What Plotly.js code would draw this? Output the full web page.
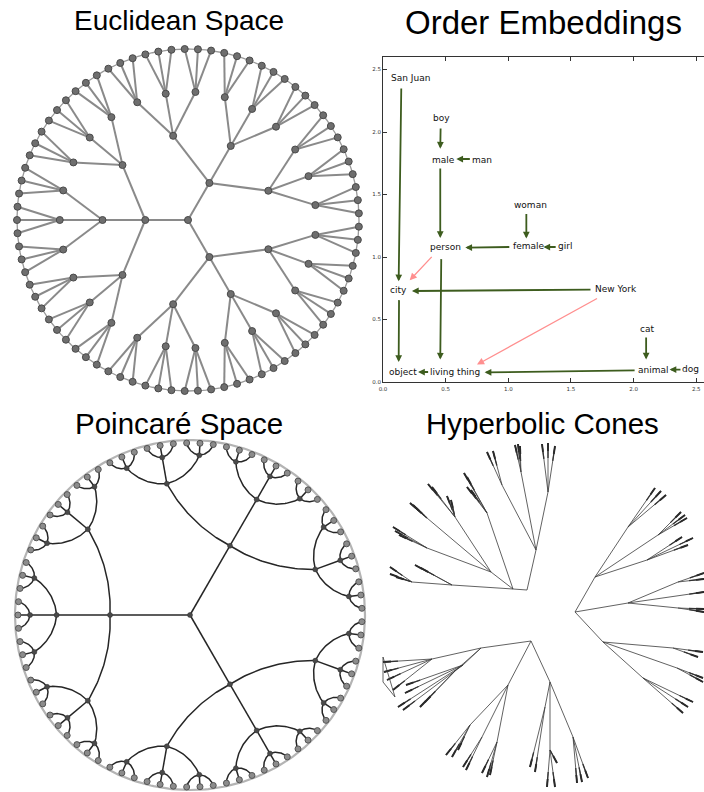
<!DOCTYPE html>
<html><head><meta charset="utf-8">
<script src="https://cdn.plot.ly/plotly-3.0.1.min.js"></script>
<style>html,body{margin:0;padding:0;background:#fff}#chart{width:704px;height:792px}</style>
</head><body><div id="chart"></div>
<script>
// ---------------- DATA ----------------
// Panel titles
const panelTitles = ['Euclidean Space', 'Order Embeddings', 'Poincaré Space', 'Hyperbolic Cones'];

// Tree shared by Euclidean and Poincaré panels (ternary tree, 4 levels)
const branching = [3, 3, 3, 3];
const siblingAngle = [120, 40, 13.33, 4.44];   // degrees between siblings at each level
const rootAngle = 300;
const euclidRadius = [0, 0.25, 0.5, 0.75, 1.0];          // level radius / leaf-ring radius
const poincareRadius = [0, 0.457, 0.762, 0.914, 0.983];  // level radius in unit disk

// Order embeddings: words and positions
const words = ['San Juan', 'boy', 'male', 'man', 'woman', 'person', 'female', 'girl', 'city', 'New York', 'cat', 'object', 'living thing', 'animal', 'dog'];
const wordX = [0.22, 0.465, 0.48, 0.79, 1.18, 0.50, 1.165, 1.45, 0.12, 1.86, 2.11, 0.16, 0.577, 2.16, 2.455];
const wordY = [2.43, 2.11, 1.78, 1.78, 1.42, 1.08, 1.085, 1.085, 0.733, 0.744, 0.427, 0.08, 0.083, 0.099, 0.107];
// arrows: tail -> head, kind 0 = hypernym (green), 1 = error (pink)
const arrowTailX = [0.146, 0.46, 0.705, 0.457, 1.144, 1.39, 1.02, 0.40, 0.465, 1.668, 1.72, 0.128, 0.372, 2.10, 2.386, 2.02];
const arrowTailY = [2.36, 2.04, 1.784, 1.72, 1.355, 1.08, 1.08, 1.013, 0.995, 0.739, 0.675, 0.667, 0.08, 0.368, 0.099, 0.093];
const arrowHeadX = [0.125, 0.457, 0.585, 0.457, 1.144, 1.28, 0.657, 0.213, 0.457, 0.231, 0.75, 0.125, 0.28, 2.10, 2.287, 0.811];
const arrowHeadY = [0.805, 1.867, 1.784, 1.152, 1.147, 1.08, 1.075, 0.813, 0.179, 0.728, 0.139, 0.16, 0.08, 0.179, 0.099, 0.077];
const arrowKind = [0, 0, 0, 0, 0, 0, 0, 1, 0, 0, 1, 0, 0, 0, 0, 0];
const axisTicks = [0, 0.5, 1.0, 1.5, 2.0, 2.5];
const axisTickText = ['0.0', '0.5', '1.0', '1.5', '2.0', '2.5'];

// Hyperbolic cones: tree nodes, parent index (-1 = root)
const coneX = [527,536,548,542,548,555,502,487,493,521,515,518,520,513,452,415,421,412,390,390,396,491,427,393,395,399,455,428,432,447,451,427,410,413,416,487,464,467,467,471,
  575,595,628,655,661,666,658,681,685,687,647,682,693,688,628,678,704,704,704,678,704,704,603,673,698,703,677,703,703,643,693,688,683,
  531,481,432,383,384,387,393,463,406,405,398,403,456,420,425,508,470,446,452,458,482,463,466,497,482,487,490,550,545,530,535,550,547,555,557,573,577,582,588];
const coneY = [590,550,492,444,443,446,485,452,451,472,445,444,446,589,585,565,568,582,567,574,577,572,548,527,531,535,517,484,487,496,500,518,503,505,508,513,473,477,487,490,
  612,577,527,488,491,495,535,512,515,518,560,537,538,545,603,582,573,579,592,608,609,612,642,648,657,652,668,678,682,678,702,707,713,
  641,648,659,662,672,680,690,665,685,693,707,710,670,707,702,685,725,755,757,750,737,767,770,742,773,777,775,682,707,767,772,750,787,787,763,737,783,782,778];
const coneParent = [-1,0,1,2,2,2,1,6,6,1,9,9,9,0,13,14,14,14,17,17,17,13,21,22,22,22,21,26,26,26,26,21,31,31,31,13,35,35,35,35,
  -1,40,41,42,42,42,41,46,46,46,41,50,50,50,40,54,55,55,54,54,59,59,40,62,63,63,62,66,66,62,69,69,69,
  -1,73,74,75,75,75,75,74,80,80,80,80,74,85,85,73,88,89,89,89,88,93,93,88,96,96,96,73,100,101,101,100,104,104,104,100,108,108,108];
const coneBoxX = [383, 383, 395, 383];
const coneBoxY = [657, 682, 697, 657];

// ---------------- BUILD ----------------
const W = 704, H = 792;
const P1 = {x0: 0, x1: 370, y0: 40, y1: 400, cx: 188, cy: 220, s: 171};
const P3 = {x0: 0, x1: 370, y0: 432, y1: 792, cx: 190, cy: 615, s: 175};

function axisPair(P) {
  return [
    {domain: [P.x0 / W, P.x1 / W], range: [(P.x0 - P.cx) / P.s, (P.x1 - P.cx) / P.s], visible: false, fixedrange: true},
    {domain: [1 - P.y1 / H, 1 - P.y0 / H], range: [(P.cy - P.y1) / P.s, (P.cy - P.y0) / P.s], visible: false, fixedrange: true}
  ];
}

function buildTree(radius) {
  const nodes = [{depth: 0, ang: rootAngle, r: radius[0], parent: -1}];
  let frontier = [0];
  for (let d = 0; d < branching.length; d++) {
    const next = [];
    for (const pi of frontier) {
      const p = nodes[pi], n = branching[d];
      for (let i = 0; i < n; i++) {
        nodes.push({depth: d + 1, ang: p.ang + (i - (n - 1) / 2) * siblingAngle[d], r: radius[d + 1], parent: pi});
        next.push(nodes.length - 1);
      }
    }
    frontier = next;
  }
  nodes.forEach(n => { n.x = n.r * Math.cos(n.ang * Math.PI / 180); n.y = n.r * Math.sin(n.ang * Math.PI / 180); });
  return nodes;
}

function circle(r) {
  const xs = [], ys = [];
  for (let i = 0; i <= 360; i++) { xs.push(r * Math.cos(i * Math.PI / 180)); ys.push(r * Math.sin(i * Math.PI / 180)); }
  return [xs, ys];
}

function geodesic(p, q) {
  const cr = p.x * q.y - p.y * q.x;
  if (Math.abs(cr) < 1e-9) return [[p.x, q.x], [p.y, q.y]];
  const a = (1 + p.x * p.x + p.y * p.y) / 2, b = (1 + q.x * q.x + q.y * q.y) / 2;
  const cx = (a * q.y - p.y * b) / cr, cy = (p.x * b - a * q.x) / cr;
  const rr = Math.hypot(p.x - cx, p.y - cy);
  const a1 = Math.atan2(p.y - cy, p.x - cx);
  let a2 = Math.atan2(q.y - cy, q.x - cx);
  let da = a2 - a1;
  while (da > Math.PI) da -= 2 * Math.PI;
  while (da < -Math.PI) da += 2 * Math.PI;
  const xs = [], ys = [], n = 40;
  for (let i = 0; i <= n; i++) { const t = a1 + da * i / n; xs.push(cx + rr * Math.cos(t)); ys.push(cy + rr * Math.sin(t)); }
  return [xs, ys];
}

const traces = [];

// Panel 1: Euclidean
const eTree = buildTree(euclidRadius);
{
  const ring = circle(euclidRadius[euclidRadius.length - 1]);
  traces.push({x: ring[0], y: ring[1], mode: 'lines', line: {color: '#9a9a9a', width: 1.3}, xaxis: 'x', yaxis: 'y', hoverinfo: 'skip'});
  const ex = [], ey = [];
  eTree.forEach(n => { if (n.parent >= 0) { const p = eTree[n.parent]; ex.push(p.x, n.x, null); ey.push(p.y, n.y, null); } });
  traces.push({x: ex, y: ey, mode: 'lines', line: {color: '#8a8a8a', width: 2}, xaxis: 'x', yaxis: 'y', hoverinfo: 'skip'});
  traces.push({x: eTree.map(n => n.x), y: eTree.map(n => n.y), mode: 'markers',
    marker: {size: 7, color: '#6e6e6e', line: {color: '#4a4a4a', width: 1}}, xaxis: 'x', yaxis: 'y', hoverinfo: 'skip'});
}

// Panel 3: Poincaré
const pTree = buildTree(poincareRadius);
{
  const ring = circle(1);
  traces.push({x: ring[0], y: ring[1], mode: 'lines', line: {color: '#b4b4b4', width: 2.2}, xaxis: 'x3', yaxis: 'y3', hoverinfo: 'skip'});
  const ex = [], ey = [];
  pTree.forEach(n => { if (n.parent >= 0) { const g = geodesic(pTree[n.parent], n); ex.push(...g[0], null); ey.push(...g[1], null); } });
  traces.push({x: ex, y: ey, mode: 'lines', line: {color: '#262626', width: 1.5}, xaxis: 'x3', yaxis: 'y3', hoverinfo: 'skip'});
  const inner = pTree.filter(n => n.depth < branching.length);
  const leaves = pTree.filter(n => n.depth === branching.length);
  traces.push({x: inner.map(n => n.x), y: inner.map(n => n.y), mode: 'markers',
    marker: {size: 5, color: '#4a4a4a', line: {color: '#333', width: 0.5}}, xaxis: 'x3', yaxis: 'y3', hoverinfo: 'skip'});
  traces.push({x: leaves.map(n => n.x), y: leaves.map(n => n.y), mode: 'markers',
    marker: {size: 6, color: '#8c8c8c', line: {color: '#555', width: 1}}, xaxis: 'x3', yaxis: 'y3', hoverinfo: 'skip'});
}

// Panel 4: Hyperbolic cones
{
  const hasChild = coneX.map(() => false);
  coneParent.forEach(p => { if (p >= 0) hasChild[p] = true; });
  const ex = [], ey = [], tx = [], ty = [], ux = [], uy = [];
  coneX.forEach((x, i) => {
    const p = coneParent[i];
    if (p < 0) return;
    ex.push(coneX[p], x, null); ey.push(coneY[p], coneY[i], null);
    if (!hasChild[i]) {
      const dx = coneX[p] - x, dy = coneY[p] - coneY[i], L = Math.hypot(dx, dy);
      const f1 = Math.min(1, 15 / L), f2 = Math.min(1, 8 / L);
      tx.push(x + dx * f1, x, null); ty.push(coneY[i] + dy * f1, coneY[i], null);
      ux.push(x + dx * f2, x, null); uy.push(coneY[i] + dy * f2, coneY[i], null);
    }
  });
  traces.push({x: ex, y: ey, mode: 'lines', line: {color: '#3a3a3a', width: 0.8}, xaxis: 'x4', yaxis: 'y4', hoverinfo: 'skip'});
  traces.push({x: tx, y: ty, mode: 'lines', line: {color: '#333', width: 1.3}, xaxis: 'x4', yaxis: 'y4', hoverinfo: 'skip'});
  traces.push({x: ux, y: uy, mode: 'lines', line: {color: '#2a2a2a', width: 1.9}, xaxis: 'x4', yaxis: 'y4', hoverinfo: 'skip'});
  traces.push({x: coneBoxX, y: coneBoxY, mode: 'lines', line: {color: '#3a3a3a', width: 0.8}, xaxis: 'x4', yaxis: 'y4', hoverinfo: 'skip'});
}

// Panel 2: invisible trace to establish axes
traces.push({x: [0], y: [0], mode: 'markers', marker: {opacity: 0}, xaxis: 'x2', yaxis: 'y2', hoverinfo: 'skip'});

const annotations = [];
const titlePos = [[179.5, 21], [543, 22], [179, 423], [542, 423]];
const titleSize = [28, 33, 29.5, 29.5];
panelTitles.forEach((t, i) => annotations.push({text: t, xref: 'paper', yref: 'paper', x: titlePos[i][0] / W, y: 1 - titlePos[i][1] / H,
  xanchor: 'center', yanchor: 'middle', showarrow: false, font: {family: 'Liberation Sans, Arial, sans-serif', size: titleSize[i], color: '#000'}}));

words.forEach((w, i) => annotations.push({text: w, xref: 'x2', yref: 'y2', x: wordX[i], y: wordY[i], xanchor: 'center', yanchor: 'middle',
  showarrow: false, font: {family: 'DejaVu Sans, sans-serif', size: 9, color: '#111'}}));

arrowTailX.forEach((_, i) => annotations.push({text: '', xref: 'x2', yref: 'y2', axref: 'x2', ayref: 'y2',
  x: arrowHeadX[i], y: arrowHeadY[i], ax: arrowTailX[i], ay: arrowTailY[i], showarrow: true,
  arrowhead: 2, arrowsize: arrowKind[i] ? 1.1 : 0.75, arrowwidth: arrowKind[i] ? 1.3 : 1.8, standoff: 0,
  arrowcolor: arrowKind[i] ? '#ff8f8f' : '#3d5c1e'}));

const a1 = axisPair(P1), a3 = axisPair(P3);
const tickAxis = {showgrid: false, zeroline: false, showline: true, linecolor: '#333', linewidth: 1, ticks: 'inside', ticklen: 4,
  tickcolor: '#333', tickwidth: 1, tickvals: axisTicks, ticktext: axisTickText, tickfont: {family: 'DejaVu Sans, sans-serif', size: 5.5, color: '#333'}, fixedrange: true};

const layout = {
  width: W, height: H, margin: {l: 0, r: 0, t: 0, b: 0}, paper_bgcolor: '#fff', plot_bgcolor: 'rgba(0,0,0,0)', showlegend: false,
  xaxis: a1[0], yaxis: a1[1],
  xaxis3: Object.assign(a3[0], {anchor: 'y3'}), yaxis3: Object.assign(a3[1], {anchor: 'x3'}),
  xaxis2: Object.assign({domain: [383 / W, 1], range: [0, (W - 383) / 125.3], anchor: 'y2', mirror: 'allticks', ticklabelstandoff: 1}, tickAxis),
  yaxis2: Object.assign({domain: [1 - 382 / H, 1 - 57 / H], range: [0, 2.6], anchor: 'x2', mirror: false}, tickAxis),
  xaxis4: {domain: [370 / W, 1], range: [370, 704], visible: false, anchor: 'y4', fixedrange: true},
  yaxis4: {domain: [0, 1 - 432 / H], range: [792, 432], visible: false, anchor: 'x4', fixedrange: true},
  annotations: annotations
};
Plotly.newPlot('chart', traces, layout, {staticPlot: true, displayModeBar: false});
</script></body></html>
